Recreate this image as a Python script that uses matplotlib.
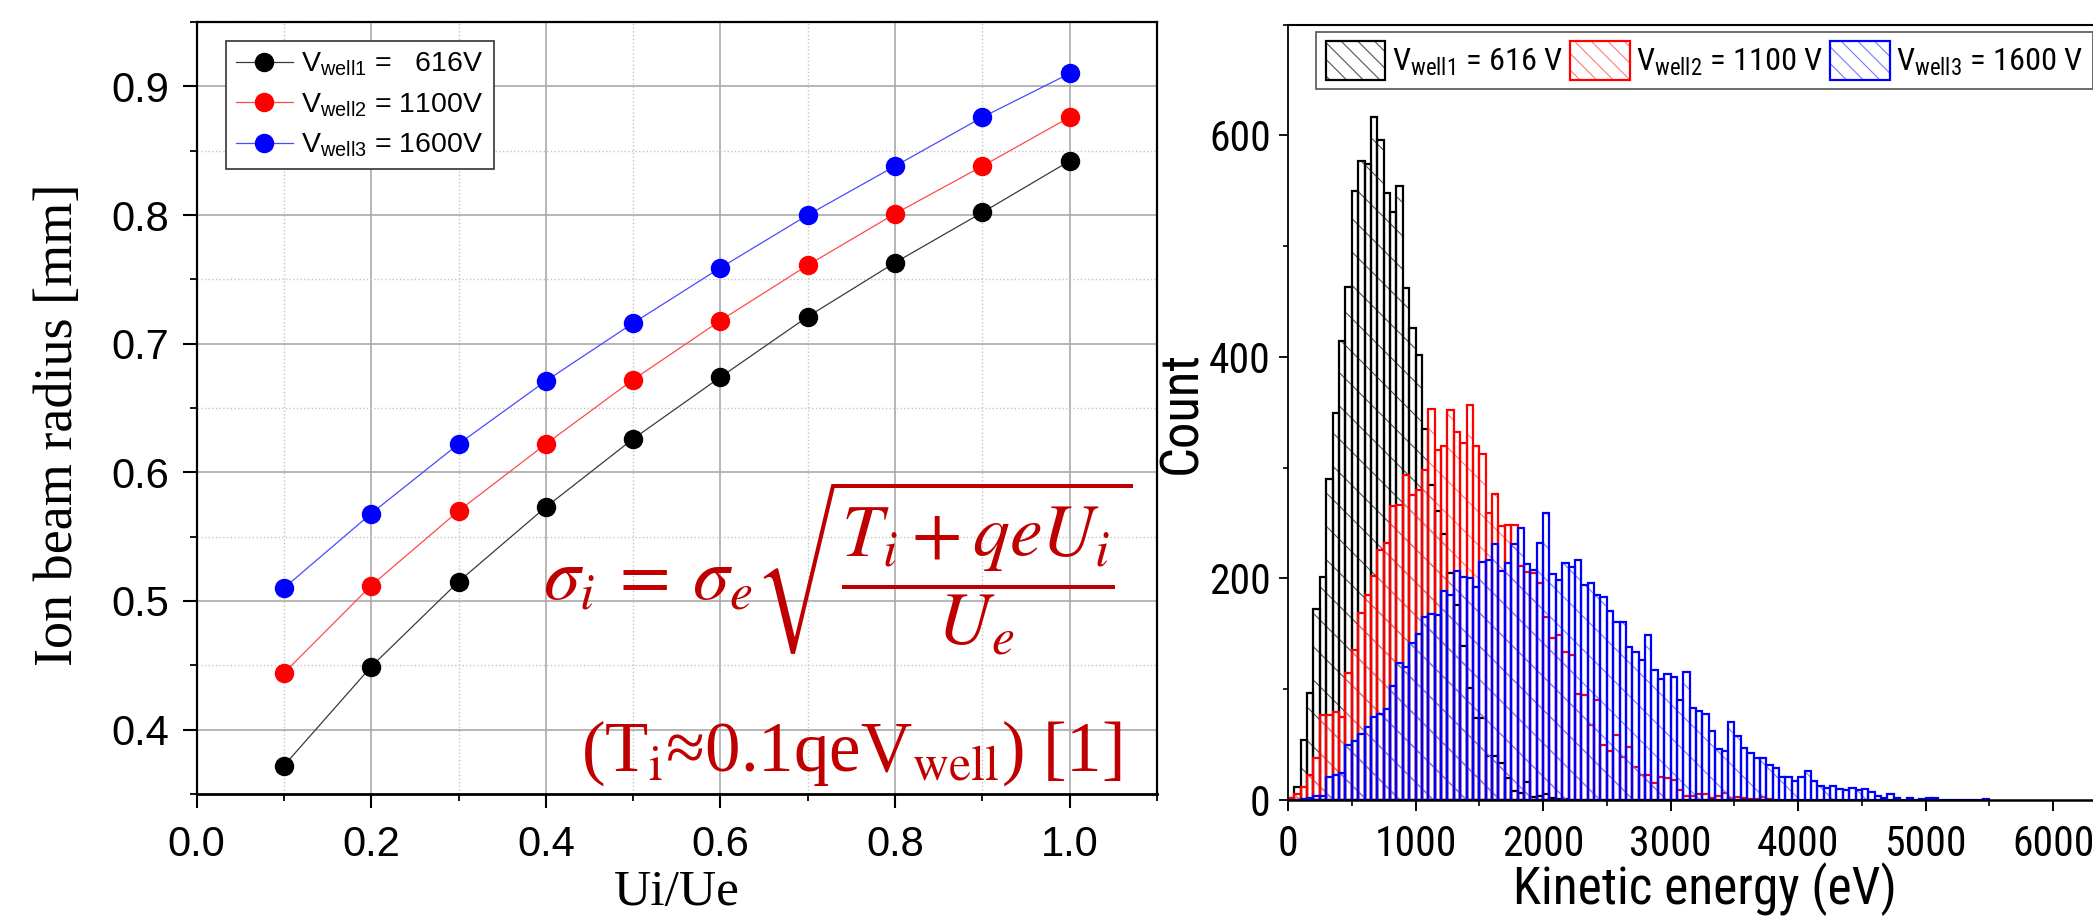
import numpy as np
import matplotlib
matplotlib.use('Agg')
import matplotlib.pyplot as plt
from matplotlib import font_manager as fm
from matplotlib.font_manager import FontProperties
from matplotlib.patches import Patch
from matplotlib.colors import to_rgba
from matplotlib.ticker import MultipleLocator, FormatStrFormatter

names = {f.name for f in fm.fontManager.ttflist}
SANS = 'Liberation Sans' if 'Liberation Sans' in names else 'DejaVu Sans'
SERIF = 'Liberation Serif' if 'Liberation Serif' in names else 'DejaVu Serif'

# look for a narrow / condensed sans face (reference right panel uses a narrow Arial-like face)
NARROW, NARROW_STRETCH, SCALE = SANS, 'normal', 0.84
for pref in ['Liberation Sans Narrow', 'Arial Narrow', 'Roboto Condensed', 'Open Sans Condensed']:
    if pref in names:
        NARROW, SCALE = pref, 1.0
        break
else:
    for f in fm.fontManager.ttflist:
        if f.name in ('Roboto', 'Open Sans', 'Noto Sans') and str(f.stretch) in ('condensed', 'semi-condensed') \
                and f.style == 'normal' and f.weight in (400, 'normal', 'regular'):
            NARROW, NARROW_STRETCH, SCALE = f.name, str(f.stretch), 1.0
            break

def nprop(size):
    return FontProperties(family=NARROW, stretch=NARROW_STRETCH, size=size * SCALE)

sf_spec = NARROW if NARROW_STRETCH == 'normal' else f'{NARROW}:stretch={NARROW_STRETCH}'
plt.rcParams.update({
    'font.family': [SANS, 'DejaVu Sans'],
    'mathtext.fontset': 'custom',
    'mathtext.rm': SANS,
    'mathtext.it': SANS + ':italic',
    'mathtext.bf': SANS + ':bold',
    'mathtext.sf': sf_spec,
    'hatch.linewidth': 0.8,
})

# ---------------- data: left panel ----------------
ratio = [0.1, 0.2, 0.3, 0.4, 0.5, 0.6, 0.7, 0.8, 0.9, 1.0]
radius_616 = [0.372, 0.449, 0.515, 0.573, 0.626, 0.674, 0.721, 0.763, 0.802, 0.842]
radius_1100 = [0.444, 0.512, 0.570, 0.622, 0.672, 0.718, 0.761, 0.801, 0.838, 0.876]
radius_1600 = [0.510, 0.568, 0.622, 0.671, 0.716, 0.759, 0.800, 0.838, 0.876, 0.910]
left_labels = [r'V$_{\rm well1}$ =   616V', r'V$_{\rm well2}$ = 1100V', r'V$_{\rm well3}$ = 1600V']

# ---------------- data: right panel (50 eV bins starting at 0 eV) ----------------
BIN_WIDTH = 50
counts_616 = [2, 12, 54, 97, 172, 201, 290, 349, 414, 463,
              550, 577, 574, 617, 596, 548, 531, 554, 462, 426,
              402, 335, 284, 261, 240, 205, 176, 139, 101, 74,
              74, 40, 40, 33, 20, 8, 6, 16, 3, 4,
              5, 2, 1, 1]
counts_1100 = [2, 5, 12, 23, 38, 77, 77, 79, 75, 115,
               135, 169, 185, 202, 226, 232, 265, 266, 293, 275,
               280, 298, 353, 316, 320, 352, 332, 322, 357, 320,
               312, 259, 276, 247, 248, 248, 211, 206, 205, 196,
               165, 146, 149, 134, 131, 96, 95, 68, 90, 50,
               44, 59, 39, 48, 30, 23, 23, 15, 21, 20,
               18, 9, 4, 4, 5, 5, 2, 4, 6, 2,
               3, 2, 1, 1, 3, 1]
counts_1600 = [0, 0, 1, 2, 4, 4, 21, 23, 24, 50,
               53, 60, 66, 75, 78, 82, 103, 124, 120, 142,
               150, 165, 168, 167, 189, 185, 207, 201, 200, 192,
               215, 217, 231, 207, 214, 231, 246, 213, 208, 232,
               259, 204, 199, 214, 210, 217, 194, 196, 185, 183,
               171, 161, 161, 138, 134, 126, 149, 117, 109, 114,
               111, 90, 116, 83, 80, 78, 62, 46, 44, 70,
               58, 47, 42, 38, 38, 32, 29, 21, 21, 17,
               21, 26, 17, 13, 11, 13, 10, 9, 11, 9,
               10, 7, 4, 2, 5, 2, 0, 2, 0, 1,
               2, 2, 0, 0, 0, 0, 0, 0, 0, 1]
right_labels = [r'V$_{\mathsf{well1}}$ = 616 V', r'V$_{\mathsf{well2}}$ = 1100 V', r'V$_{\mathsf{well3}}$ = 1600 V']

RED_TXT = '#C00000'

fig = plt.figure(figsize=(20.93, 9.19), dpi=100)

# ================= left panel =================
ax1 = fig.add_axes([0.09393, 0.13602, 0.45886, 0.84004])
styles = [('#000000', '#3a3a3a'), ('#ff0000', '#ff4a4a'), ('#0000ff', '#4a4aff')]
for vals, (mc, lc), lab in zip([radius_616, radius_1100, radius_1600], styles, left_labels):
    ax1.plot(ratio, vals, '-o', color=lc, lw=0.9, ms=13, mfc=mc, mec=mc, label=lab, zorder=3)

ax1.set_xlim(0, 1.1)
ax1.set_ylim(0.35, 0.95)
ax1.xaxis.set_major_locator(MultipleLocator(0.2))
ax1.xaxis.set_minor_locator(MultipleLocator(0.1))
ax1.yaxis.set_major_locator(MultipleLocator(0.1))
ax1.yaxis.set_minor_locator(MultipleLocator(0.05))
ax1.xaxis.set_major_formatter(FormatStrFormatter('%.1f'))
ax1.yaxis.set_major_formatter(FormatStrFormatter('%.1f'))
ax1.set_axisbelow(True)
ax1.grid(which='major', color='#aaaaaa', lw=1.2, ls='-')
ax1.grid(which='minor', color='#c4c4c4', lw=1.0, ls=':')
ax1.tick_params(which='major', direction='out', length=10, width=1.5, labelsize=30, pad=12)
ax1.tick_params(axis='y', which='major', pad=10)
ax1.tick_params(which='minor', direction='out', length=5, width=1.3)
for s in ax1.spines.values():
    s.set_linewidth(1.6)
ax1.spines['bottom'].set_linewidth(2.0)

ax1.set_ylabel('Ion beam radius [mm]', family=[SERIF, 'DejaVu Serif'], fontsize=39)
ax1.yaxis.set_label_coords(-0.117, 0.478)
ax1.set_xlabel('Ui/Ue', family=[SERIF, 'DejaVu Serif'], fontsize=37, va='bottom')
ax1.xaxis.set_label_coords(0.5, -0.1580)

leg1 = ax1.legend(loc='upper left', bbox_to_anchor=(0.108, 0.9554), bbox_transform=fig.transFigure,
                  fontsize=20.5, frameon=True, fancybox=False, edgecolor='#333333', framealpha=1,
                  borderpad=0.35, labelspacing=0.45, handlelength=2.0, handletextpad=0.3, borderaxespad=0)
leg1.get_frame().set_linewidth(1.2)

ax1.text(0.3606, 0.25, r'$\sigma_i\:=\:\sigma_e\sqrt{\dfrac{T_i + qeU_i}{U_e}}$', transform=ax1.transAxes,
         fontsize=53, color=RED_TXT, math_fontfamily='stix', ha='left', va='baseline')
ax1.text(0.9634, 0.0298, r'(T$_{\rm i}$≈0.1qeV$_{\rm well}$) [1]', transform=ax1.transAxes,
         family=[SERIF, 'DejaVu Serif'], fontsize=51, color=RED_TXT, math_fontfamily='stix',
         ha='right', va='baseline')

# ================= right panel =================
ax2 = fig.add_axes([0.61538, 0.12949, 0.39608, 0.84374])
hist_styles = [('#000000', '#555555'), ('#ff0000', '#ff7a7a'), ('#0000ff', '#7a7aff')]
for counts, (ec, hc) in zip([counts_616, counts_1100, counts_1600], hist_styles):
    edges = np.arange(len(counts)) * BIN_WIDTH
    ax2.bar(edges, counts, width=BIN_WIDTH, align='edge', facecolor='none', edgecolor=hc,
            hatch='\\', linewidth=0, zorder=2)
    ax2.bar(edges, counts, width=BIN_WIDTH, align='edge', facecolor='none', edgecolor=ec,
            linewidth=1.6, zorder=2)

ax2.set_xlim(0, 6500)
ax2.set_ylim(0, 700)
ax2.xaxis.set_major_locator(MultipleLocator(1000))
ax2.xaxis.set_minor_locator(MultipleLocator(500))
ax2.yaxis.set_major_locator(MultipleLocator(200))
ax2.yaxis.set_minor_locator(MultipleLocator(100))
ax2.tick_params(axis='x', which='major', direction='out', length=8, width=1.4, pad=9)
ax2.tick_params(axis='x', which='minor', direction='out', length=4, width=1.2)
ax2.tick_params(axis='y', which='major', direction='out', length=6.5, width=1.3, pad=6)
ax2.tick_params(axis='y', which='minor', direction='out', length=3.5, width=1.2)
for lab in ax2.get_xticklabels() + ax2.get_yticklabels():
    lab.set_fontproperties(nprop(30))
ax2.spines['bottom'].set_linewidth(1.8)
ax2.spines['left'].set_linewidth(1.3)
ax2.spines['top'].set_linewidth(1.5)
ax2.spines['right'].set_linewidth(1.5)

ax2.set_ylabel('Count', fontproperties=nprop(38))
ax2.yaxis.set_label_coords(-0.097, 0.5)
ax2.set_xlabel('Kinetic energy (eV)', fontproperties=nprop(37), va='bottom')
ax2.xaxis.set_label_coords(0.503, -0.1495)

handles = [Patch(facecolor='none', edgecolor=ec, hatch='\\\\', linewidth=1.6) for ec, hc in hist_styles]
leg2 = ax2.legend(handles, right_labels,
                  loc='upper left', bbox_to_anchor=(0.629, 0.965), bbox_transform=fig.transFigure,
                  ncol=3, prop=nprop(23.3), frameon=True, fancybox=False,
                  edgecolor='#555555', framealpha=1, borderpad=0.28, handlelength=1.85 / SCALE,
                  handleheight=1.45 / SCALE, handletextpad=0.2, columnspacing=0.2, borderaxespad=0)
leg2.get_frame().set_linewidth(1.2)
for p, (ec, hc) in zip(leg2.get_patches(), hist_styles):
    try:
        p._hatch_color = to_rgba(hc)
    except Exception:
        pass

fig.savefig('out.png', dpi=100)
